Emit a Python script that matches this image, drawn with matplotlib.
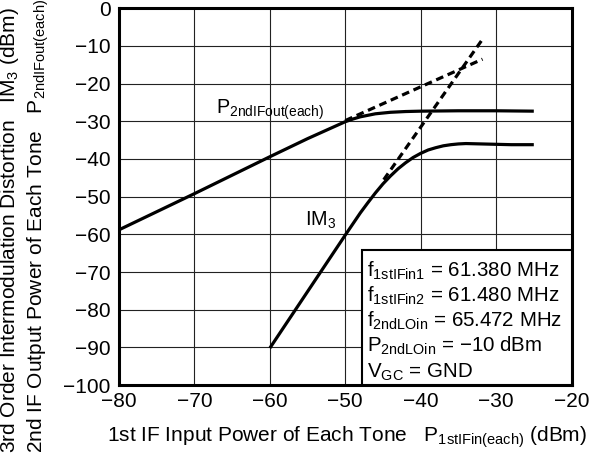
import numpy as np
import matplotlib
matplotlib.use("Agg")
import matplotlib.pyplot as plt
from matplotlib.patches import Rectangle

plt.rcParams["font.family"] = ["Liberation Sans", "DejaVu Sans"]
plt.rcParams["mathtext.fontset"] = "custom"
plt.rcParams["mathtext.rm"] = "Liberation Sans"
plt.rcParams["mathtext.it"] = "Liberation Sans:italic"

# values
pout_x = [-80, -70, -60, -55, -53, -52, -51, -50, -49, -48, -47, -46, -45,
          -44, -42, -40, -35, -30, -25]
pout_y = [-58.8, -49.2, -39.4, -34.6, -32.8, -31.9, -31.0, -30.1, -29.4, -28.8,
          -28.4, -28.0, -27.8, -27.6, -27.4, -27.3, -27.2, -27.2, -27.3]

im3_x = [-60, -55, -50, -48, -47, -46, -45, -44, -43, -42, -41, -40, -39, -38,
         -37, -36, -35, -34, -32, -30, -28, -25]
im3_y = [-90.2, -75.2, -60.2, -54.3, -51.6, -49.0, -46.6, -44.5, -42.6, -41.0,
         -39.6, -38.5, -37.6, -37.0, -36.5, -36.2, -36.0, -35.9, -36.0, -36.1,
         -36.2, -36.2]

pout_ext_x = [-50, -31.8]
pout_ext_y = [-29.8, -13.5]
im3_ext_x = [-44.9, -31.8]
im3_ext_y = [-45.5, -8.2]

x_ticks = [-80, -70, -60, -50, -40, -30, -20]
y_ticks = [0, -10, -20, -30, -40, -50, -60, -70, -80, -90, -100]

conditions = [
    r"$\mathregular{f_{1stIFin1}}$ = 61.380 MHz",
    r"$\mathregular{f_{1stIFin2}}$ = 61.480 MHz",
    r"$\mathregular{f_{2ndLOin}}$ = 65.472 MHz",
    r"$\mathregular{P_{2ndLOin}}$ = −10 dBm",
    r"$\mathregular{V_{GC}}$ = GND",
]

fig = plt.figure(figsize=(5.92, 4.57), dpi=100)
ax = fig.add_axes([0.201, 0.1575, 0.7644, 0.8243])

ax.plot(pout_x, pout_y, color="black", lw=2.3, solid_capstyle="butt", zorder=3)
ax.plot(im3_x, im3_y, color="black", lw=2.3, solid_capstyle="butt", zorder=3)
ax.plot(pout_ext_x, pout_ext_y, color="black", lw=2.3, ls=(0, (2.4, 1.5)), zorder=3)
ax.plot(im3_ext_x, im3_ext_y, color="black", lw=2.3, ls=(0, (2.4, 1.5)), zorder=3)

ax.set_xlim(-80, -20)
ax.set_ylim(-100, 0)
ax.set_xticks(x_ticks)
ax.set_yticks(y_ticks)
ax.set_xticklabels([str(v).replace("-", "−") for v in x_ticks])
ax.set_yticklabels([str(v).replace("-", "−") for v in y_ticks])
ax.tick_params(length=0, labelsize=15, colors="black")
ax.tick_params(axis="x", pad=5)
ax.tick_params(axis="y", pad=6)
ax.grid(True, color="#222222", lw=0.8)
ax.set_axisbelow(True)
for s in ax.spines.values():
    s.set_linewidth(2.2)

ax.text(-67.1, -27.85, r"$\mathregular{P_{2ndIFout(each)}}$", fontsize=14.2, va="baseline", ha="left")
ax.text(-55.3, -57.7, r"$\mathregular{IM_{3}}$", fontsize=14.2, va="baseline", ha="left")

box = Rectangle((0.537, 0.0), 0.463, 0.358, transform=ax.transAxes,
                facecolor="white", edgecolor="black", lw=1.5, zorder=4)
ax.add_patch(box)
rows = [0.287, 0.221, 0.155, 0.088, 0.020]
for txt, yy in zip(conditions, rows):
    ax.text(0.549, yy, txt, transform=ax.transAxes, fontsize=14.8,
            va="baseline", ha="left", zorder=5)

fig.text(107 / 592, 1 - 437 / 457,
         r"1st IF Input Power of Each Tone   $\mathregular{P_{1stIFin(each)}}$ (dBm)",
         fontsize=15, ha="left", va="center")
fig.text(10 / 592, 1 - 453 / 457,
         r"3rd Order Intermodulation Distortion   $\mathregular{IM_{3}}$ (dBm)",
         fontsize=15, rotation=90, ha="center", va="bottom")
fig.text(38 / 592, 1 - 453 / 457,
         r"2nd IF Output Power of Each Tone   $\mathregular{P_{2ndIFout(each)}}$",
         fontsize=15, rotation=90, ha="center", va="bottom")

fig.savefig("out.png", dpi=100)
